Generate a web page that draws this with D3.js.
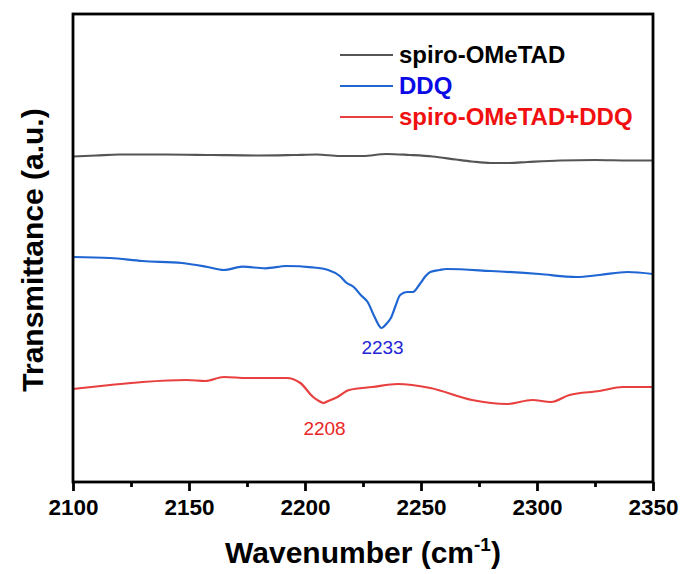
<!DOCTYPE html>
<meta charset="utf-8">
<script src="https://d3js.org/d3.v7.min.js"></script>
<style>
body { margin: 0; background: #fff; }
text { font-family: "Liberation Sans", Arial, sans-serif; }
.tick-lab { font-weight: bold; font-size: 22.5px; fill: #000; }
.axis-title { font-weight: bold; font-size: 30px; fill: #000; }
.legend-lab { font-weight: bold; font-size: 24px; }
.peak-lab { font-size: 19px; }
</style>
<body>
<div id="p1"></div>
<script>
// wavenumber (cm-1) and transmittance (a.u., offset traces)
var spiroWn = [2100, 2110, 2120, 2140, 2160, 2180, 2195, 2205, 2215, 2225, 2235, 2245, 2255, 2265, 2272, 2280, 2288, 2296, 2310, 2325, 2340, 2350];
var spiroT  = [325.5, 326.5, 327.5, 327.5, 327, 326.5, 327, 327.5, 326, 326, 328, 327, 325.5, 322.5, 320.5, 319, 319, 320, 321.5, 322, 321.5, 321.5];

var ddqWn = [2100, 2116, 2130, 2147, 2158, 2165, 2173, 2183, 2192, 2203, 2210, 2215, 2218, 2221, 2224, 2227, 2230, 2233, 2235, 2237, 2239, 2241, 2244, 2246.5, 2249.5, 2252, 2254, 2258, 2261, 2280, 2301, 2317, 2327, 2339, 2350];
var ddqT  = [225, 224, 221, 219, 215, 212, 215.3, 213.7, 216, 214.7, 212, 206, 199, 195, 187, 180, 165, 154, 158, 164, 176, 187, 190, 190, 198, 206, 210, 212, 213, 211, 208, 205, 207, 210, 208];

var mixWn = [2100, 2116, 2130, 2149, 2157, 2165, 2175, 2192, 2198, 2203.5, 2206, 2208, 2210, 2214, 2219, 2229, 2240, 2254, 2272, 2287, 2298, 2306, 2314, 2327, 2337, 2350];
var mixT  = [93, 97, 100, 102, 101, 105, 104, 104, 99, 85, 81, 79, 81, 85, 92, 95, 98, 94, 82, 78, 82, 80, 87, 91, 95, 95];

var seriesNames = ["spiro-OMeTAD", "DDQ", "spiro-OMeTAD+DDQ"];
var lineColors = ["#555555", "#1f66d3", "#e8403f"];
var textColors = ["#000000", "#0a0ae6", "#f01010"];

var xTicks = [2100, 2150, 2200, 2250, 2300, 2350];
var xMinorTicks = [2125, 2175, 2225, 2275, 2325];

var peaks = [{wn: 2233, t: 154, label: "2233", color: "#2323d6"},
             {wn: 2208, t: 79, label: "2208", color: "#e82626"}];
var peakLabelGap = [26, 32];

function zip(wn, t) { return wn.map(function(w, i) { return {x: w, y: t[i]}; }); }
var series = [zip(spiroWn, spiroT), zip(ddqWn, ddqT), zip(mixWn, mixT)];

var W = 682, H = 574;
var margin = {top: 14, right: 29, bottom: 92, left: 73};

var svg = d3.select("#p1").append("svg")
    .attr("width", W).attr("height", H);

var x = d3.scaleLinear().domain([2100, 2350]).range([margin.left, W - margin.right]);
var y = d3.scaleLinear().domain([0, 468]).range([H - margin.bottom, margin.top]);

// curves
var line = d3.line()
    .x(function(d) { return x(d.x); })
    .y(function(d) { return y(d.y); })
    .curve(d3.curveMonotoneX);

svg.append("g").selectAll("path")
  .data(series).enter()
  .append("path")
    .attr("d", line)
    .attr("fill", "none")
    .attr("stroke", function(d, i) { return lineColors[i]; })
    .attr("stroke-width", 2.2)
    .attr("stroke-linejoin", "round");

// frame
svg.append("rect")
    .attr("x", x(2100)).attr("y", y(468))
    .attr("width", x(2350) - x(2100))
    .attr("height", y(0) - y(468))
    .attr("fill", "none")
    .attr("stroke", "#000")
    .attr("stroke-width", 2.8);

// x axis
var xAxis = d3.axisBottom(x).tickValues(xTicks).tickSize(9).tickPadding(8).tickFormat(d3.format("d"));
var gx = svg.append("g")
    .attr("transform", "translate(0," + y(0) + ")")
    .call(xAxis);
gx.select(".domain").remove();
gx.selectAll(".tick line").attr("stroke", "#000").attr("stroke-width", 2.8);
gx.selectAll(".tick text").attr("class", "tick-lab").attr("fill", "#000");

var xMinor = d3.axisBottom(x).tickValues(xMinorTicks).tickSize(5).tickFormat("");
var gm = svg.append("g")
    .attr("transform", "translate(0," + y(0) + ")")
    .call(xMinor);
gm.select(".domain").remove();
gm.selectAll(".tick line").attr("stroke", "#000").attr("stroke-width", 2.8);

// axis titles
var xt = svg.append("text")
    .attr("class", "axis-title")
    .attr("x", (x(2100) + x(2350)) / 2)
    .attr("y", 563)
    .attr("text-anchor", "middle");
xt.append("tspan").text("Wavenumber (cm");
xt.append("tspan").text("-1").attr("dy", -12).style("font-size", "19px");
xt.append("tspan").text(")").attr("dy", 12);

svg.append("text")
    .attr("class", "axis-title")
    .attr("transform", "translate(43," + ((y(0) + y(468)) / 2 + 2) + ") rotate(-90)")
    .attr("text-anchor", "middle")
    .text("Transmittance (a.u.)");

// peak labels
svg.append("g").selectAll("text")
  .data(peaks).enter()
  .append("text")
    .attr("class", "peak-lab")
    .attr("x", function(d) { return x(d.wn) + 1; })
    .attr("y", function(d, i) { return y(d.t) + peakLabelGap[i]; })
    .attr("text-anchor", "middle")
    .attr("fill", function(d) { return d.color; })
    .text(function(d) { return d.label; });

// legend
var legend = svg.append("g").attr("transform", "translate(340,55)");
var rows = legend.selectAll("g")
  .data(seriesNames).enter()
  .append("g")
    .attr("transform", function(d, i) { return "translate(0," + (i * 31) + ")"; });
rows.append("line")
    .attr("x1", 0).attr("x2", 53)
    .attr("stroke", function(d, i) { return lineColors[i]; })
    .attr("stroke-width", 2.2);
rows.append("text")
    .attr("class", "legend-lab")
    .attr("x", 59).attr("y", 8)
    .attr("fill", function(d, i) { return textColors[i]; })
    .text(function(d) { return d; });
</script>
</body>
